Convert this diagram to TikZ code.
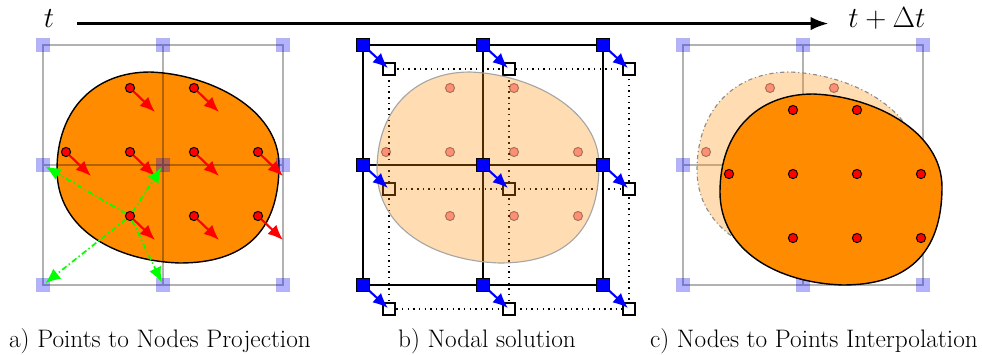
\documentclass[tikz,border=0pt]{standalone}
\usetikzlibrary{arrows.meta,calc}
\definecolor{matorange}{RGB}{255,140,0}
\tikzset{blob/.pic={\path[pic actions] (-2.65,-0.125) .. controls (-2.65,1.375) and (-1.725,2.325) .. (-0.325,2.325) .. controls (1.175,2.275) and (2.9,1.4) .. (2.9,0) .. controls (2.9,-1.7) and (2.0,-2.45) .. (0.425,-2.45) .. controls (-1.2,-2.4) and (-2.65,-1.6) .. cycle;}}

\begin{document}
\begin{tikzpicture}[
  gridline/.style={draw=black, opacity=0.3, line width=0.9pt},
  gridnode/.style={rectangle, draw=blue!80!black, fill=blue, opacity=0.3, minimum size=3.2mm, inner sep=0pt},
  solnode/.style={rectangle, draw=black, fill=blue, minimum size=3.4mm, inner sep=0pt, line width=0.7pt},
  newnode/.style={rectangle, draw=black, fill=white, minimum size=3mm, inner sep=0pt, line width=0.8pt},
  matpt/.style={circle, draw=black, fill=red, minimum size=2.3mm, inner sep=0pt, line width=0.7pt},
  oldpt/.style={matpt, opacity=0.35},
  vel/.style={-{Latex[length=3.8mm,width=3.2mm]}, line width=1.5pt},
  proj/.style={-{Latex[length=3.8mm,width=3.2mm]}, green, line width=1.2pt, dash pattern=on 4pt off 2pt on 1pt off 2pt, shorten >=2pt},
  timelbl/.style={font=\fontsize{20}{24}\selectfont, text height=1.6ex, text depth=0.2ex, inner sep=2pt, anchor=base},
  caption/.style={font=\fontsize{18}{22}\selectfont, anchor=base}]
\useasboundingbox (-4.075,4.125) rectangle (20.475,-4.725);
\node[timelbl] (t0) at (-2.85,3.43) {$t$};
\node[timelbl] (t1) at (18.1,3.43) {$t+\Delta t$};
\draw[-{Latex[length=4.5mm,width=3.4mm]}, line width=2pt, shorten <=14pt, shorten >=12pt] (t0) -- (t1);
\pic[fill=matorange, draw=black, line width=1pt] at (0,0) {blob};
\foreach \i in {0,1,2} \foreach \j in {0,1,2} \coordinate (ga\i\j) at ({3*\i-3},{3-3*\j});
\draw[gridline] (ga00) rectangle (ga22) (ga10) -- (ga12) (ga01) -- (ga21);
\foreach \i in {0,1,2} \foreach \j in {0,1,2} \node[gridnode] (na\i\j) at (ga\i\j) {};
\foreach \i/\j in {1/0,2/0,0/1,1/1,2/1,3/1,1/2,2/2,3/2} {
  \node[matpt] (pa\i\j) at ({1.6*\i-2.425},{1.925-1.6*\j}) {};
  \coordinate (qa\i\j) at ($(pa\i\j)+(0.625,-0.6)$);
  \draw[vel, red] (pa\i\j) -- (qa\i\j);
}
\foreach \n in {na01,na11,na02,na12} \draw[proj] (pa12) -- (\n.center);
\foreach \i in {0,1,2} \foreach \j in {0,1,2} {\coordinate (gb\i\j) at ({3*\i+5},{3-3*\j}); \coordinate (gd\i\j) at ($(gb\i\j)+(0.65,-0.6)$);}
\draw[line width=1pt, dash pattern=on 1pt off 3pt] (gd00) rectangle (gd22) (gd10) -- (gd12) (gd01) -- (gd21);
\foreach \i in {0,1,2} \foreach \j in {0,1,2} \node[newnode] (nd\i\j) at (gd\i\j) {};
\draw[line width=1.1pt] (gb00) rectangle (gb22) (gb10) -- (gb12) (gb01) -- (gb21);
\pic[fill=matorange, fill opacity=0.3, draw=black!35, line width=0.8pt] at (8,0) {blob};
\foreach \i/\j in {1/0,2/0,0/1,1/1,2/1,3/1,1/2,2/2,3/2} \node[oldpt] (pb\i\j) at ({1.6*\i+5.575},{1.925-1.6*\j}) {};
\foreach \i in {0,1,2} \foreach \j in {0,1,2} {\draw[vel, blue, shorten >=1pt] (gb\i\j) -- (nd\i\j.center); \node[solnode] (nb\i\j) at (gb\i\j) {};}
\foreach \i in {0,1,2} \foreach \j in {0,1,2} \coordinate (gc\i\j) at ({3*\i+13},{3-3*\j});
\draw[gridline] (gc00) rectangle (gc22) (gc10) -- (gc12) (gc01) -- (gc21);
\foreach \i in {0,1,2} \foreach \j in {0,1,2} \node[gridnode] (nc\i\j) at (gc\i\j) {};
\pic[fill=matorange, fill opacity=0.3, draw=black!45, line width=0.8pt, dash dot] at (16,0) {blob};
\foreach \i/\j in {1/0,2/0,0/1,1/1,2/1,3/1,1/2,2/2,3/2} \node[oldpt] (pc\i\j) at ({1.6*\i+13.575},{1.925-1.6*\j}) {};
\pic[fill=matorange, draw=black, line width=1pt] at (16.575,-0.55) {blob};
\foreach \i/\j in {1/0,2/0,0/1,1/1,2/1,3/1,1/2,2/2,3/2} \node[matpt] (mc\i\j) at ($(pc\i\j)+(0.575,-0.55)$) {};
\node[caption] (capa) at (-0.075,-4.55) {a) Points to Nodes Projection};
\node[caption] (capb) at (8.1,-4.55) {b) Nodal solution};
\node[caption] (capc) at (16.275,-4.55) {c) Nodes to Points Interpolation};
\end{tikzpicture}
\end{document}
